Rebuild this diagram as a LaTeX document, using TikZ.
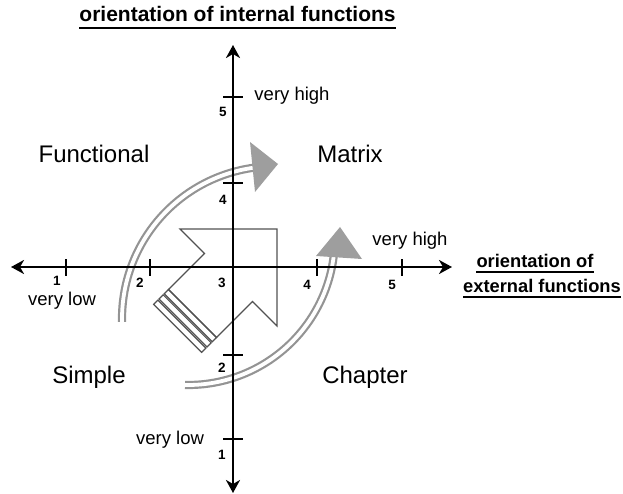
\documentclass[tikz,border=0pt]{standalone}
\usepackage{fontspec}
\setmainfont{Liberation Sans}
\usetikzlibrary{arrows.meta,calc}
\begin{document}
\begin{tikzpicture}[x=1pt,y=-1pt,
  axis/.style={line width=2.6pt,{Stealth[length=13pt,width=14pt,inset=4pt]}-{Stealth[length=13pt,width=14pt,inset=4pt]}},
  tickmark/.style={line width=1.6pt},
  num/.style={font=\fontsize{13.5}{13.5}\selectfont\bfseries,inner sep=0pt},
  lvl/.style={font=\fontsize{18.5}{18.5}\selectfont,inner sep=0pt},
  quad/.style={font=\fontsize{24}{24}\selectfont,inner sep=0pt,anchor=base},
  ttl/.style={font=\fontsize{21}{21}\selectfont\bfseries,inner sep=0pt,anchor=base},
  ttlr/.style={font=\fontsize{18.3}{18.3}\selectfont\bfseries,inner sep=0pt,anchor=base},
  uline/.style={line width=1.4pt},
  bigarrow/.style={draw=black!68,line width=1.2pt,line join=miter},
  sweep/.style={draw=black!42,line width=2.2pt,double=white,double distance=3.8pt},
  sweephead/.style={fill=black!38,draw=none},
]
\useasboundingbox (0,0) rectangle (623,494);

% central block arrow
\coordinate (L) at (168.5,289.5);
\coordinate (R) at (216.5,337.5);
\draw[bigarrow] (277,229) -- (277,326) -- (252.5,301.5) -- (R) -- (L) -- (204.5,253.5) -- (180,229) -- cycle;
\foreach \a/\b in {0/6,7.5/13.5,15/21}
  \draw[bigarrow] ($(L)+(-0.7071*\a,0.7071*\a)$) -- ($(R)+(-0.7071*\a,0.7071*\a)$)
     -- ($(R)+(-0.7071*\b,0.7071*\b)$) -- ($(L)+(-0.7071*\b,0.7071*\b)$) -- cycle;

% sweeping arrows
\draw[sweep] plot[domain=178.8:262.5,samples=60,smooth] ({274.4+152.4*cos(\x)},{318.7+152.4*sin(\x)});
\fill[sweephead] (278,164) -- (250,142) -- (255,192) -- cycle;
\draw[sweep] plot[domain=91.2:6,samples=60,smooth] ({188.1+146.7*cos(\x)},{238.3+146.7*sin(\x)});
\fill[sweephead] (340,227) -- (316,256) -- (362,259) -- cycle;

% axes
\coordinate (W) at (11,267);
\coordinate (E) at (452,267);
\coordinate (N) at (233,45);
\coordinate (S) at (233,493);
\draw[axis] (W) -- (E);
\draw[axis] (S) -- (N);

% ticks
\foreach \t in {66,150,317,402} \draw[tickmark] (\t,259) -- (\t,276);
\foreach \t in {97,183,355,439} \draw[tickmark] (223,\t) -- (243,\t);

% numbers
\node[num] (h1) at (57,281) {1};
\node[num] (h2) at (140,283) {2};
\node[num] (h3) at (222,283) {3};
\node[num] (h4) at (307,285) {4};
\node[num] (h5) at (392,285) {5};
\node[num] (v5) at (223,112) {5};
\node[num] (v4) at (223,200) {4};
\node[num] (v2) at (222,368) {2};
\node[num] (v1) at (222,455) {1};

% level texts
\node[lvl] (vhtop) at (292,96) {very high};
\node[lvl] (vhright) at (410,241) {very high};
\node[lvl] (vlleft) at (62,300.5) {very low};
\node[lvl] (vlbottom) at (170,440) {very low};

% quadrant labels
\node[quad] (functional) at (94,163) {Functional};
\node[quad] (matrix) at (350,163) {Matrix};
\node[quad] (simple) at (89,383) {Simple};
\node[quad] (chapter) at (365,383) {Chapter};

% titles
\node[ttl] (tint) at (237.5,22) {orientation of internal functions};
\draw[uline] ([yshift=-6pt]tint.base west) -- ([yshift=-6pt]tint.base east);
\node[ttlr] (text1) at (535,267) {orientation of};
\draw[uline] ([yshift=-5pt]text1.base west) -- ([yshift=-5pt]text1.base east);
\node[ttlr] (text2) at (542,292) {external functions};
\draw[uline] ([yshift=-5pt]text2.base west) -- ([yshift=-5pt]text2.base east);
\end{tikzpicture}
\end{document}
